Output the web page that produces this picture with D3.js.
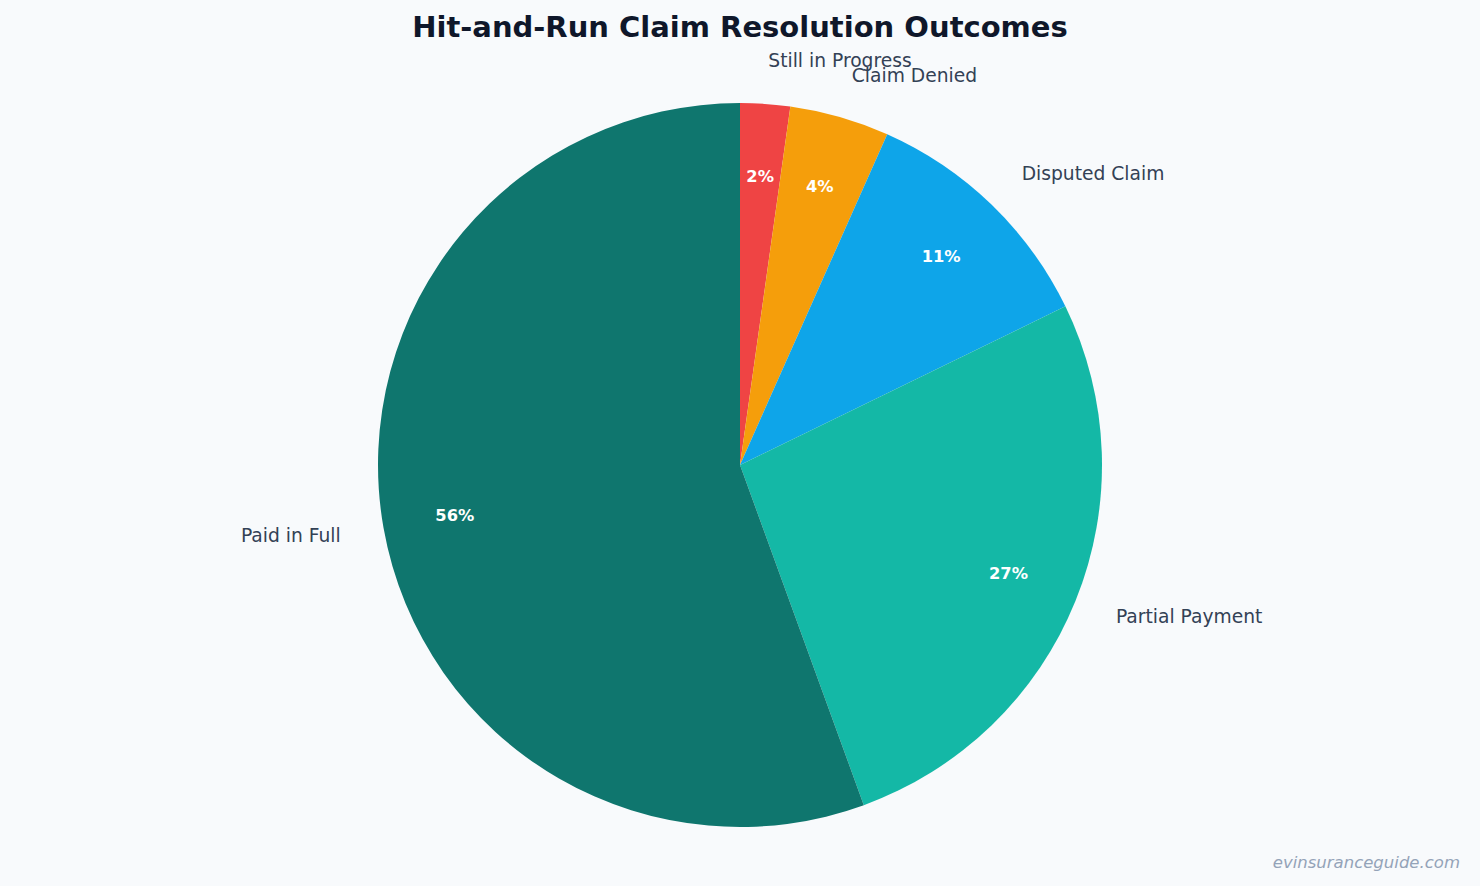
<!DOCTYPE html>
<html>
<head>
<meta charset="utf-8">
<script src="https://cdn.jsdelivr.net/npm/d3@7"></script>
<style>
  html, body { margin: 0; padding: 0; background: #f8fafc; }
  svg { display: block; font-family: "DejaVu Sans", sans-serif; }
</style>
</head>
<body>
<script>
// data (ratios 1:2:5:12:25)
let categories = ["Still in Progress", "Claim Denied", "Disputed Claim", "Partial Payment", "Paid in Full"];
let values = [1, 2, 5, 12, 25];
let colors = ["#ef4444", "#f59e0b", "#0ea5e9", "#14b8a6", "#0f766e"];

let width = 1480, height = 886;
let cx = 740, cy = 465, radius = 362;

let svg = d3.select("body").append("svg").attr("width", width).attr("height", height);

svg.append("rect").attr("width", width).attr("height", height).attr("fill", "#f8fafc");

svg.append("text")
   .attr("x", width / 2).attr("y", 37)
   .attr("text-anchor", "middle")
   .attr("font-size", 29).attr("font-weight", "bold")
   .attr("fill", "#0f172a")
   .text("Hit-and-Run Claim Resolution Outcomes");

let total = d3.sum(values);
let data = categories.map((c, i) => ({name: c, value: values[i], color: colors[i]}));

let pie = d3.pie().value(d => d.value).sort(null);
let arc = d3.arc().innerRadius(0).outerRadius(radius);
let innerArc = d3.arc().innerRadius(radius * 0.8).outerRadius(radius * 0.8);
let outerArc = d3.arc().innerRadius(radius * 1.12).outerRadius(radius * 1.12);

let chartGroup = svg.append("g").attr("transform", "translate(" + cx + "," + cy + ")");
let arcs = pie(data);

chartGroup.selectAll("path.slice")
   .data(arcs)
   .enter().append("path")
   .attr("class", "slice")
   .attr("d", arc)
   .attr("fill", d => d.data.color);

chartGroup.selectAll("text.pct")
   .data(arcs)
   .enter().append("text")
   .attr("class", "pct")
   .attr("transform", d => "translate(" + innerArc.centroid(d) + ")")
   .attr("text-anchor", "middle")
   .attr("dy", "0.35em")
   .attr("font-size", 16.3).attr("font-weight", "bold")
   .attr("fill", "#ffffff")
   .text(d => Math.round(d.data.value / total * 100) + "%");

chartGroup.selectAll("text.lbl")
   .data(arcs)
   .enter().append("text")
   .attr("class", "lbl")
   .attr("transform", d => "translate(" + outerArc.centroid(d) + ")")
   .attr("text-anchor", d => ((d.startAngle + d.endAngle) / 2 > Math.PI ? "end" : "start"))
   .attr("dy", "0.35em")
   .attr("font-size", 18.7)
   .attr("fill", "#334155")
   .text(d => d.data.name);

svg.append("text")
   .attr("x", 1460).attr("y", 868)
   .attr("text-anchor", "end")
   .attr("font-size", 16.5).attr("font-style", "italic")
   .attr("fill", "#94a3b8")
   .text("evinsuranceguide.com");
</script>
</body>
</html>
